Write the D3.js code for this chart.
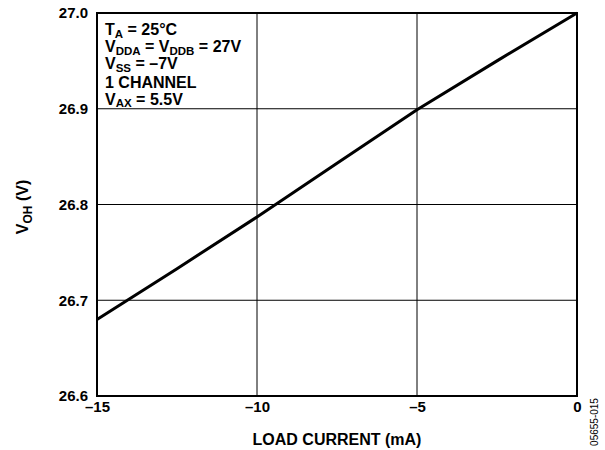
<!DOCTYPE html>
<html><head><meta charset="utf-8">
<script src="https://cdn.jsdelivr.net/npm/d3@7"></script>
<style>body{margin:0;background:#fff}svg{display:block}text{font-family:"Liberation Sans",Arial,sans-serif}</style>
</head><body>
<svg id="c" width="605" height="450"></svg>
<script>
const loadCurrent = [-15, -12.5, -10, -7.5, -5, -2.5, 0];
const voh = [26.68, 26.733, 26.787, 26.843, 26.899, 26.95, 27.0];
const xTicks = [-15, -10, -5, 0];
const yTicks = [26.6, 26.7, 26.8, 26.9, 27.0];

const svg = d3.select("#c");
const L = 97, R = 577, T = 13, B = 396;
const x = d3.scaleLinear().domain([-15, 0]).range([L, R]);
const y = d3.scaleLinear().domain([26.6, 27.0]).range([B, T]);
const fmtX = d => d < 0 ? "\u2013" + Math.abs(d) : String(d);
const FS = 15;

// grid
svg.append("g").selectAll("line").data(xTicks.slice(1, -1)).join("line")
  .attr("x1", d => x(d)).attr("x2", d => x(d)).attr("y1", T).attr("y2", B)
  .attr("stroke", "#000").attr("stroke-width", 1);
svg.append("g").selectAll("line").data(yTicks.slice(1, -1)).join("line")
  .attr("y1", d => y(d)).attr("y2", d => y(d)).attr("x1", L).attr("x2", R)
  .attr("stroke", "#000").attr("stroke-width", 1);

// axes labels via d3 axes (no lines)
const xa = svg.append("g").attr("transform", `translate(0,${B})`)
  .call(d3.axisBottom(x).tickValues(xTicks).tickFormat(fmtX).tickSize(0).tickPadding(5.5));
const ya = svg.append("g").attr("transform", `translate(${L},0)`)
  .call(d3.axisLeft(y).tickValues(yTicks).tickFormat(d3.format(".1f")).tickSize(0).tickPadding(9));
[xa, ya].forEach(g => {
  g.select(".domain").remove();
  g.selectAll("text").attr("font-size", FS).attr("font-weight", "bold")
    .attr("fill", "#000").attr("font-family", '"Liberation Sans",Arial,sans-serif');
});

// line
svg.append("path").datum(loadCurrent.map((c, i) => [c, voh[i]]))
  .attr("d", d3.line().x(d => x(d[0])).y(d => y(d[1])))
  .attr("fill", "none").attr("stroke", "#000").attr("stroke-width", 3)
  .attr("stroke-linejoin", "round");

// frame
svg.append("rect").attr("x", L).attr("y", T).attr("width", R - L).attr("height", B - T)
  .attr("fill", "none").attr("stroke", "#000").attr("stroke-width", 2);

// legend text
const leg = svg.append("g").attr("font-size", 16).attr("font-weight", "bold");
const lines = [
  [["T", 0], ["A", 1], [" = 25\u00B0C", 0]],
  [["V", 0], ["DDA", 1], [" = V", 0], ["DDB", 1], [" = 27V", 0]],
  [["V", 0], ["SS", 1], [" = \u20137V", 0]],
  [["1 CHANNEL", 0]],
  [["V", 0], ["AX", 1], [" = 5.5V", 0]]
];
const base = [35.2, 52.4, 69.4, 87.6, 104.6];
lines.forEach((parts, i) => {
  const t = leg.append("text").attr("x", 105).attr("y", base[i]);
  parts.forEach(([s, sub], j) => {
    const ts = t.append("tspan").text(s);
    if (sub) ts.attr("font-size", 11.5).attr("dy", 2.5);
    else if (j > 0) ts.attr("dy", -2.5);
  });
});

// axis titles
svg.append("text").attr("x", (L + R) / 2).attr("y", 445).attr("text-anchor", "middle")
  .attr("font-size", 16).attr("font-weight", "bold").text("LOAD CURRENT (mA)");
const yt = svg.append("text").attr("transform", `translate(28,207) rotate(-90)`)
  .attr("text-anchor", "middle").attr("font-size", 16).attr("font-weight", "bold");
yt.append("tspan").text("V");
yt.append("tspan").text("OH").attr("font-size", 12).attr("dy", 3.5);
yt.append("tspan").text(" (V)").attr("dy", -3.5);

svg.append("text").attr("transform", "translate(598,422) rotate(-90)")
  .attr("text-anchor", "middle").attr("font-size", 10).text("05655-015");
</script>
</body></html>
